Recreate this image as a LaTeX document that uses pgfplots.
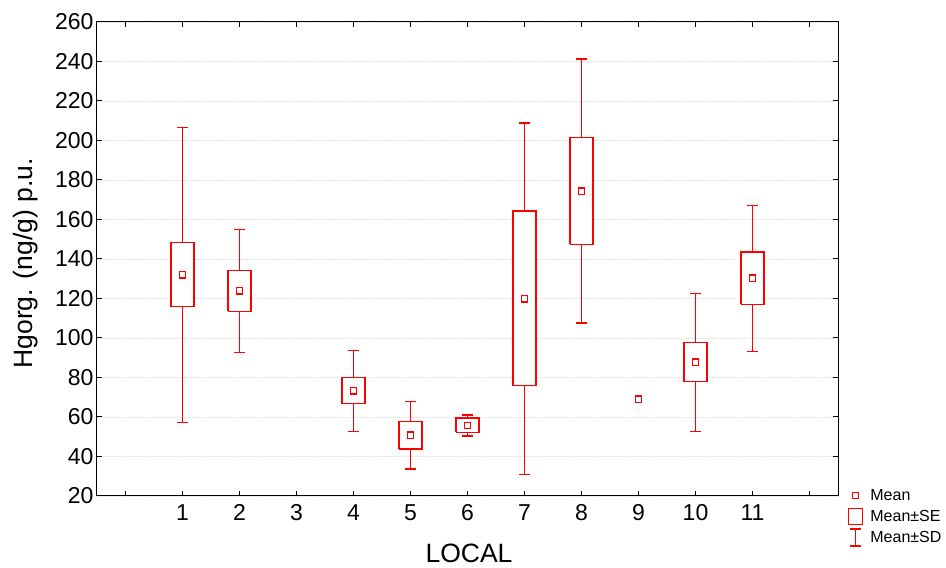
\documentclass[border=0pt]{standalone}
\usepackage{fontspec}
\setmainfont{Liberation Sans}
\usepackage{pgfplots}
\pgfplotsset{compat=1.18}
\definecolor{sred}{RGB}{255,0,0}
\begin{document}
\begin{tikzpicture}
\path[use as bounding box] (0,0) rectangle (946pt,568pt);
\begin{axis}[
  at={(97pt,72pt)}, anchor=south west,
  width=741pt, height=474pt, scale only axis,
  xmin=-0.5, xmax=12.5, ymin=20, ymax=260,
  xtick={0,...,12}, xticklabels={,1,2,3,4,5,6,7,8,9,10,11,},
  ytick={20,40,...,260},
  ymajorgrids, major grid style={densely dotted, draw=black!10, line width=0.6pt},
  tick align=inside, major tick length=5pt,
  axis line style={line width=1pt},
  every tick/.style={draw=black, line width=1pt},
  tick label style={font=\fontsize{23}{26}\selectfont},
  /pgf/number format/assume math mode=true,
  xticklabel style={yshift=-5pt},
  xlabel={LOCAL}, ylabel={Hgorg. (ng/g) p.u.},
  label style={font=\fontsize{26.5}{30}\selectfont},
  x label style={at={(axis description cs:0.502,-0.1203)}, anchor=center},
  y label style={at={(axis description cs:-0.0958,0.4905)}, anchor=center, rotate=0},
  legend style={at={(axis description cs:1,0)}, anchor=north west, xshift=10pt, yshift=9pt,
    draw=none, fill=none, inner sep=0pt, outer sep=0pt, row sep=3.5pt, column sep=7pt,
    font=\fontsize{16}{19}\selectfont, nodes={inner sep=0pt}},
  legend cell align=left,
  sebox/.style={draw=sred, line width=1.4pt, fill=white, line join=miter, mark=none, forget plot},
]
\addlegendimage{draw=sred, line width=1.4pt, legend image code/.code={\path[draw=none, fill=none] (0pt,-8.5pt) rectangle (14pt,8.5pt); \draw[draw=sred] (4pt,-3pt) rectangle (10pt,3pt);}}
\addlegendentry{Mean}
\addlegendimage{draw=sred, line width=1.4pt, legend image code/.code={\draw[draw=sred] (0pt,-8pt) rectangle (14pt,8pt);}}
\addlegendentry{Mean±SE}
\addlegendimage{draw=sred, line width=1.4pt, legend image code/.code={\draw[draw=sred] (7pt,-8.5pt)--(7pt,8.5pt) (1.5pt,-8.5pt)--(12.5pt,-8.5pt) (1.5pt,8.5pt)--(12.5pt,8.5pt);}}
\addlegendentry{Mean±SD}

% Mean +- SD whiskers
\addplot[draw=none, mark=none, forget plot,
  error bars/.cd, y dir=both, y explicit, error mark=-,
  error bar style={draw=sred, line width=1.4pt},
  error mark options={draw=sred, rotate=90, line width=1.4pt, mark size=5.5pt, solid}]
coordinates {
(1,131.9) +- (0,74.8)
(2,123.8) +- (0,31.1)
(4,73.2) +- (0,20.5)
(5,50.7) +- (0,17.0)
(6,55.7) +- (0,5.4)
(7,119.9) +- (0,88.9)
(8,174.4) +- (0,66.9)
(10,87.7) +- (0,34.9)
(11,130.2) +- (0,37.0)
};

% Mean +- SE boxes
\addplot[sebox] coordinates {(0.8,115.8) (1.2,115.8) (1.2,148.5) (0.8,148.5) (0.8,115.8)};
\addplot[sebox] coordinates {(1.8,113.5) (2.2,113.5) (2.2,134.3) (1.8,134.3) (1.8,113.5)};
\addplot[sebox] coordinates {(3.8,66.7) (4.2,66.7) (4.2,79.9) (3.8,79.9) (3.8,66.7)};
\addplot[sebox] coordinates {(4.8,43.8) (5.2,43.8) (5.2,57.6) (4.8,57.6) (4.8,43.8)};
\addplot[sebox] coordinates {(5.8,52.2) (6.2,52.2) (6.2,59.5) (5.8,59.5) (5.8,52.2)};
\addplot[sebox] coordinates {(6.8,75.9) (7.2,75.9) (7.2,164.3) (6.8,164.3) (6.8,75.9)};
\addplot[sebox] coordinates {(7.8,147.4) (8.2,147.4) (8.2,201.6) (7.8,201.6) (7.8,147.4)};
\addplot[sebox] coordinates {(9.8,77.9) (10.2,77.9) (10.2,97.8) (9.8,97.8) (9.8,77.9)};
\addplot[sebox] coordinates {(10.8,117.1) (11.2,117.1) (11.2,143.5) (10.8,143.5) (10.8,117.1)};

% Means
\addplot[draw=sred, only marks, mark=square, mark size=3.2pt, forget plot,
  mark options={draw=sred, line width=1.4pt, solid}] coordinates {
(1,131.9) (2,123.8) (4,73.2) (5,50.7) (6,55.7) (7,119.9) (8,174.4) (9,69) (10,87.7) (11,130.2)};
\end{axis}
\end{tikzpicture}
\end{document}
